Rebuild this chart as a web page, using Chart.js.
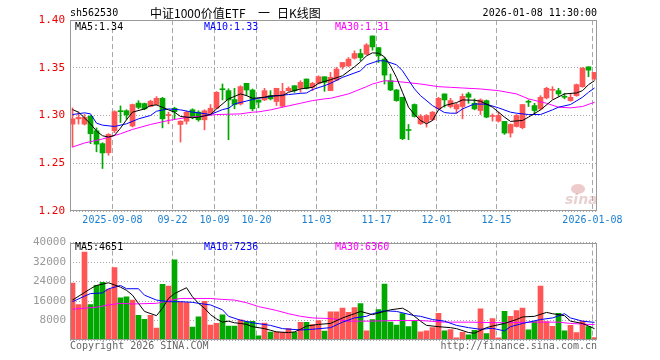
<!DOCTYPE html>
<html><head><meta charset="utf-8">
<script src="https://cdn.jsdelivr.net/npm/chart.js@4.4.1/dist/chart.umd.min.js"></script>
<style>
html,body{margin:0;padding:0;background:#fff;}
#wrap{position:relative;width:660px;height:360px;overflow:hidden;background:#fff;}
#c1{position:absolute;left:0;top:0;width:660px;height:232px;}
#c2{position:absolute;left:0;top:232px;width:660px;height:128px;}
</style></head><body>
<div id="wrap"><canvas id="c1" width="660" height="232"></canvas><canvas id="c2" width="660" height="128"></canvas></div>
<script>
// ---------------- data ----------------
const tickIdx = [7, 17, 24, 31, 41, 51, 61, 71, 87];
const tickLabels = ['2025-09-08','09-22','10-09','10-20','11-03','11-17','12-01','12-15','2026-01-08'];
const priceTicks = [1.20, 1.25, 1.30, 1.35, 1.40];
const volTicks = [0, 8000, 16000, 24000, 32000, 40000];
const headerCode = 'sh562530';
const headerTitle = ['中证1000价值ETF', '一', '日K线图'];
const headerTime = '2026-01-08 11:30:00';
const priceLegend = ['MA5:1.34', 'MA10:1.33', 'MA30:1.31'];
const volLegend = ['MA5:4651', 'MA10:7236', 'MA30:6360'];
const footLeft = 'Copyright 2026 SINA.COM';
const footRight = 'http://finance.sina.com.cn';

const open = [1.291,1.2965,1.291,1.2993,1.284,1.2705,1.261,1.284,1.305,1.305,1.289,1.313,1.3125,1.3095,1.3115,1.318,1.300,1.3076,1.2906,1.294,1.306,1.3035,
1.2955,1.3024,1.3076,1.328,1.326,1.3167,1.3121,1.3337,1.3267,1.3163,1.3163,1.3208,1.3146,1.3097,1.326,1.3312,1.3285,1.3382,1.3295,1.3337,1.3406,1.326,
1.3371,1.351,1.352,1.36,1.3649,1.3642,1.3833,1.3711,1.359,1.3364,1.3267,1.3191,1.2847,1.3115,1.2913,1.2931,1.2955,1.3069,1.3226,1.3094,1.3069,1.3094,
1.3226,1.3128,1.3052,1.3156,1.299,1.2941,1.2938,1.2816,1.2885,1.2872,1.3142,1.3104,1.3069,1.3184,1.3264,1.326,1.3193,1.3156,1.3208,1.3302,1.351,1.3382];
const close = [1.2965,1.298,1.298,1.2809,1.270,1.2608,1.2802,1.304,1.304,1.3005,1.3115,1.3085,1.307,1.315,1.318,1.2965,1.301,1.304,1.294,1.3035,1.298,1.2955,
1.305,1.3076,1.3243,1.327,1.3163,1.3115,1.3302,1.3267,1.307,1.3139,1.326,1.3174,1.3285,1.3253,1.3285,1.326,1.3347,1.3285,1.3337,1.3406,1.3347,1.340,
1.3486,1.3555,1.359,1.3649,1.3607,1.3739,1.3718,1.3625,1.3423,1.3267,1.3156,1.2757,1.2843,1.299,1.299,1.300,1.3035,1.318,1.3163,1.3156,1.3115,1.3201,
1.3191,1.3069,1.3163,1.2983,1.2993,1.300,1.2816,1.2906,1.300,1.3115,1.3139,1.3052,1.3191,1.3285,1.3267,1.3226,1.3191,1.3191,1.3323,1.3496,1.3475,1.3451];
const high = [1.308,1.3035,1.301,1.300,1.287,1.2715,1.281,1.305,1.310,1.306,1.312,1.3155,1.313,1.316,1.3198,1.319,1.3035,1.3087,1.2945,1.3045,1.307,1.305,
1.306,1.3115,1.325,1.333,1.328,1.3285,1.3312,1.3337,1.3278,1.3163,1.3285,1.326,1.3285,1.3337,1.330,1.3312,1.3364,1.3382,1.3347,1.3416,1.3406,1.3451,
1.3503,1.3555,1.3607,1.3677,1.3694,1.3753,1.3833,1.3711,1.3607,1.3434,1.3274,1.3191,1.2906,1.3121,1.301,1.301,1.3042,1.3191,1.3226,1.318,1.3128,1.3226,
1.3243,1.3174,1.3174,1.3163,1.3017,1.3035,1.2938,1.2913,1.301,1.3115,1.3163,1.3128,1.3208,1.3295,1.3302,1.3285,1.3233,1.3226,1.333,1.3503,1.351,1.3451];
const low = [1.267,1.291,1.290,1.2705,1.262,1.2445,1.2584,1.282,1.2927,1.296,1.288,1.307,1.306,1.309,1.311,1.287,1.2913,1.2965,1.2722,1.291,1.2965,1.294,
1.285,1.301,1.307,1.3163,1.2747,1.307,1.311,1.3208,1.305,1.308,1.3156,1.3163,1.3104,1.3087,1.3253,1.3243,1.3243,1.3278,1.326,1.333,1.3253,1.326,
1.3364,1.3486,1.351,1.359,1.3573,1.3635,1.3684,1.3555,1.333,1.326,1.3149,1.2747,1.2747,1.2983,1.2906,1.2879,1.2948,1.3069,1.3087,1.308,1.3024,1.2965,
1.3128,1.3059,1.301,1.2976,1.2941,1.2931,1.2802,1.2774,1.2879,1.2861,1.3094,1.301,1.3059,1.3174,1.3174,1.3201,1.3174,1.3149,1.3201,1.3295,1.3406,1.3371];
const volume = [23400,14500,36100,14500,22500,23700,20900,29700,17300,17700,16400,10100,8500,10100,4900,22900,22100,32900,15700,15400,5300,9500,
15900,6100,6800,10300,5700,5700,8300,7600,7700,1700,6900,3300,3300,3100,4700,3100,7300,7300,6300,8000,3700,11600,
11600,13060,11330,13330,14930,3730,8400,12530,22930,7330,6130,10800,5470,8000,3330,3730,5070,10930,3730,4270,930,3200,
2130,4000,12800,2670,8800,930,11730,9730,12130,13060,4130,7600,22130,7600,5600,10930,3730,6000,3000,7800,5500,950];

const priceMA5 = [[0,1.3062],[1,1.3035],[3,1.2913],[4,1.2837],[5,1.2788],[6,1.2774],[7,1.2792],[8,1.2868],[9,1.2955],[10,1.3035],[12,1.3069],[13,1.3104],[14,1.3111],[16,1.3059],[17,1.3035],[18,1.299],[20,1.2976],[21,1.2983],[23,1.301],[24,1.3069],[26,1.3174],[28,1.3226],[29,1.3208],[30,1.318],[32,1.3191],[33,1.3205],[35,1.3208],[36,1.3243],[38,1.3278],[40,1.3295],[41,1.3337],[43,1.3375],[45,1.3416],[47,1.351],[48,1.3562],[49,1.3625],[50,1.3656],[51,1.3652],[52,1.3614],[53,1.352],[54,1.3399],[55,1.3243],[56,1.3087],[57,1.301],[58,1.2948],[59,1.2913],[60,1.2948],[61,1.3059],[62,1.3104],[64,1.3135],[65,1.3163],[67,1.316],[68,1.3149],[70,1.3087],[72,1.2983],[73,1.2938],[75,1.2948],[76,1.2983],[78,1.3059],[80,1.3163],[82,1.3226],[84,1.3236],[85,1.326],[86,1.3323],[87,1.3364]];
const priceMA10 = [[0,1.301],[2,1.3028],[3,1.3017],[4,1.292],[5,1.2899],[7,1.2885],[9,1.2913],[11,1.2965],[13,1.30],[14,1.3045],[16,1.3069],[18,1.3059],[20,1.3035],[21,1.3028],[23,1.301],[25,1.3062],[26,1.3076],[27,1.3121],[30,1.3167],[31,1.318],[34,1.3208],[36,1.3219],[38,1.3232],[39,1.3236],[40,1.3271],[42,1.3312],[43,1.3337],[45,1.3399],[48,1.3468],[49,1.3531],[51,1.3573],[52,1.3573],[54,1.3531],[55,1.3468],[57,1.3278],[58,1.3208],[60,1.3104],[62,1.3031],[63,1.3024],[64,1.3024],[65,1.3069],[67,1.3121],[69,1.3118],[71,1.308],[73,1.3035],[74,1.3024],[76,1.301],[78,1.301],[80,1.3059],[81,1.3087],[83,1.3115],[85,1.3191],[86,1.3243],[87,1.3288]];
const priceMA30 = [[0,1.267],[2,1.2712],[5,1.2754],[8,1.2809],[10,1.2854],[13,1.2906],[16,1.2948],[19,1.2979],[21,1.299],[24,1.301],[28,1.3017],[30,1.3035],[31,1.3038],[33,1.3059],[35,1.3087],[38,1.3128],[40,1.3156],[42,1.3174],[43,1.318],[46,1.3226],[49,1.3302],[50,1.333],[52,1.3364],[54,1.3357],[58,1.333],[61,1.3302],[63,1.3295],[65,1.3288],[68,1.3278],[71,1.326],[74,1.3226],[76,1.3174],[79,1.3128],[81,1.3087],[83,1.308],[85,1.3094],[87,1.3139]];
const volMA5 = [[0,16400],[2,19500],[3,21060],[4,22400],[6,23500],[8,21700],[9,20400],[10,18400],[11,15000],[12,11730],[14,10000],[15,13060],[16,17060],[17,19060],[19,21460],[20,17730],[21,15060],[22,13060],[23,10400],[24,8670],[25,7330],[26,7730],[27,7070],[28,6800],[29,6400],[30,5470],[32,4670],[33,4000],[34,3330],[36,3070],[37,3330],[38,4400],[39,5730],[41,6400],[43,6800],[45,9060],[47,10800],[48,11730],[50,10400],[52,11730],[53,12400],[55,13060],[56,11730],[58,7730],[59,6000],[61,5470],[63,5070],[64,4670],[66,3070],[67,2800],[69,5070],[70,5730],[72,6800],[74,8400],[75,9460],[77,9730],[79,11330],[80,10800],[82,10000],[83,7730],[85,6800],[87,4651]];
const volMA10 = [[0,15730],[2,18000],[3,19060],[5,19330],[6,21000],[8,22400],[9,21060],[11,21060],[12,18400],[14,16400],[16,15730],[18,15730],[20,15460],[21,15060],[23,14400],[25,12400],[26,9730],[28,8130],[30,7070],[33,6000],[35,4670],[38,4130],[40,4400],[43,5070],[45,7330],[47,9060],[49,9730],[50,10800],[52,12000],[54,11730],[57,10000],[58,9730],[60,8400],[62,7730],[64,6000],[66,5070],[68,4400],[70,4800],[72,3730],[73,5470],[75,6800],[78,8400],[80,9060],[82,10800],[83,9060],[85,7730],[87,7236]];
const volMA30 = [[0,12660],[2,13060],[4,13460],[6,14400],[8,15060],[10,14800],[14,15060],[16,16130],[18,17060],[20,17060],[23,17060],[25,16660],[27,16400],[29,15330],[31,13730],[34,12130],[36,10800],[38,9730],[40,9060],[43,8800],[46,7730],[49,7730],[54,8000],[58,8000],[62,7330],[66,7330],[72,7070],[77,7330],[81,7330],[83,6800],[86,6400],[87,6360]];

// ---------------- styles / layout ----------------
const MONO = '"DejaVu Sans Mono", monospace';
const CJK = '"Noto Sans CJK SC", sans-serif';
const UP = '#ff5555', DOWN = '#00a800';
const X_MIN = -2.5 / 6, X_MAX = -2.5 / 6 + 527 / 6;
const PLOT_L = 70, PLOT_R = 597;
const idx = open.map((_, i) => i);
const col = i => (close[i] >= open[i] ? UP : DOWN);
const xy = arr => arr.map(([x, y]) => ({ x, y }));

function lineDS(arr, color) {
  return { type: 'line', data: xy(arr), borderColor: color, borderWidth: 1, pointRadius: 0, tension: 0, fill: false };
}

function xScale(showLabels) {
  return {
    type: 'linear', min: X_MIN, max: X_MAX, offset: false, bounds: 'data',
    afterBuildTicks: s => { s.ticks = tickIdx.map(v => ({ value: v - 0.34 })); },
    afterFit: s => { s.height = showLabels ? 21 : 0; },
    ticks: { display: showLabels, autoSkip: false, maxRotation: 0, padding: 3,
      color: '#1a7fd0', font: { family: MONO, size: 10 },
      callback: (v, k) => tickLabels[k] },
    grid: { color: '#a8a8a8', lineWidth: 1, drawTicks: false, offset: false },
    border: { display: false, dash: [5, 3] }
  };
}

const frame = {
  id: 'frame',
  afterDatasetsDraw(chart) {
    const { ctx, chartArea: a } = chart;
    ctx.save();
    ctx.strokeStyle = '#999';
    ctx.lineWidth = 1;
    ctx.strokeRect(Math.round(a.left) + 0.5, Math.round(a.top) + 0.5,
      Math.round(a.right - a.left) - 1, Math.round(a.bottom - a.top) - 1);
    ctx.restore();
  }
};

function txt(ctx, s, x, y, color, font, align) {
  ctx.fillStyle = color; ctx.font = font; ctx.textAlign = align || 'left'; ctx.textBaseline = 'middle';
  ctx.fillText(s, x, y);
}

const priceText = {
  id: 'priceText',
  afterDraw(chart) {
    const ctx = chart.ctx;
    ctx.save();
    txt(ctx, headerCode, 70, 13, '#000', '10px ' + MONO);
    txt(ctx, headerTitle[0], 150, 13, '#000', '12px ' + CJK);
    txt(ctx, headerTitle[1], 258, 13, '#000', '12px ' + CJK);
    txt(ctx, headerTitle[2], 277, 13, '#000', '12px ' + CJK);
    txt(ctx, headerTime, 597, 13, '#000', '10px ' + MONO, 'right');
    txt(ctx, priceLegend[0], 75, 27, '#000', '10px ' + MONO);
    txt(ctx, priceLegend[1], 204, 27, '#0000ff', '10px ' + MONO);
    txt(ctx, priceLegend[2], 335, 27, '#ff00ff', '10px ' + MONO);
    // sina watermark
    ctx.globalAlpha = 0.45;
    ctx.fillStyle = '#d98c8c';
    ctx.beginPath(); ctx.ellipse(578, 189, 7, 5, 0, 0, Math.PI * 2); ctx.fill();
    txt(ctx, 'sina', 565, 200, '#c99', 'italic bold 14px "DejaVu Sans", sans-serif');
    ctx.restore();
  }
};

const volText = {
  id: 'volText',
  afterDraw(chart) {
    const ctx = chart.ctx;
    ctx.save();
    txt(ctx, volLegend[0], 75, 15, '#000', '10px ' + MONO);
    txt(ctx, volLegend[1], 204, 15, '#0000ff', '10px ' + MONO);
    txt(ctx, volLegend[2], 335, 15, '#ff00ff', '10px ' + MONO);
    txt(ctx, footLeft, 70, 114, '#666', '10px ' + MONO);
    txt(ctx, footRight, 597, 114, '#666', '10px ' + MONO, 'right');
    ctx.restore();
  }
};

// ---------------- price chart ----------------
new Chart(document.getElementById('c1'), {
  type: 'bar',
  data: {
    datasets: [
      lineDS(priceMA5, '#000000'),
      lineDS(priceMA10, '#0000ff'),
      lineDS(priceMA30, '#ff00ff'),
      { type: 'bar', data: idx.map(i => ({ x: i, y: [open[i], close[i]] })),
        backgroundColor: idx.map(col), barThickness: 5, minBarLength: 1, grouped: false, borderWidth: 0 },
      { type: 'bar', data: idx.map(i => ({ x: i, y: [low[i], high[i]] })),
        backgroundColor: idx.map(col), barThickness: 1, minBarLength: 1, grouped: false, borderWidth: 0 }
    ]
  },
  options: {
    responsive: false, animation: false, devicePixelRatio: 1,
    layout: { padding: { left: 0, right: 660 - PLOT_R, top: 20, bottom: 0 } },
    plugins: { legend: { display: false }, tooltip: { enabled: false } },
    scales: {
      x: xScale(true),
      y: {
        type: 'linear', min: 1.20, max: 1.40,
        afterBuildTicks: s => { s.ticks = priceTicks.map(v => ({ value: v })); },
        afterFit: s => { s.width = PLOT_L; },
        ticks: { padding: 5, color: '#ee0000', font: { family: MONO, size: 11 }, callback: v => v.toFixed(2) },
        grid: { color: '#a8a8a8', lineWidth: 1, drawTicks: false },
        border: { display: false, dash: [1, 2] }
      }
    }
  },
  plugins: [frame, priceText]
});

// ---------------- volume chart ----------------
new Chart(document.getElementById('c2'), {
  type: 'bar',
  data: {
    datasets: [
      lineDS(volMA5, '#000000'),
      lineDS(volMA10, '#0000ff'),
      lineDS(volMA30, '#ff00ff'),
      { type: 'bar', data: idx.map(i => ({ x: i, y: volume[i] })),
        backgroundColor: idx.map(col), barThickness: 5, grouped: false, borderWidth: 0 }
    ]
  },
  options: {
    responsive: false, animation: false, devicePixelRatio: 1,
    layout: { padding: { left: 0, right: 660 - PLOT_R, top: 8, bottom: 20 } },
    plugins: { legend: { display: false }, tooltip: { enabled: false } },
    scales: {
      x: xScale(false),
      y: {
        type: 'linear', min: 0, max: 40000,
        afterBuildTicks: s => { s.ticks = volTicks.map(v => ({ value: v })); },
        afterFit: s => { s.width = PLOT_L; },
        ticks: { padding: 4, color: '#999', font: { family: MONO, size: 11 }, callback: v => (v === 0 ? '' : String(v)) },
        grid: { color: '#a8a8a8', lineWidth: 1, drawTicks: false },
        border: { display: false, dash: [1, 2] }
      }
    }
  },
  plugins: [frame, volText]
});
</script>
</body></html>
